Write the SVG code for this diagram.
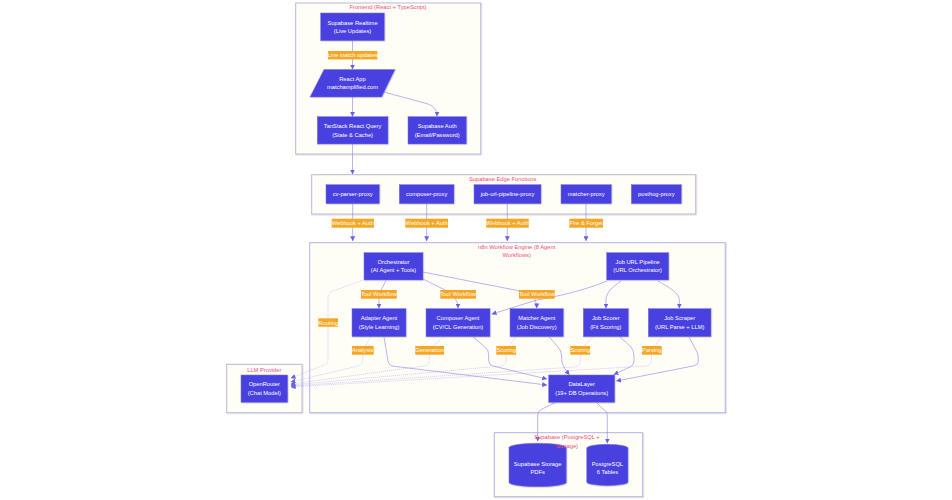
<svg xmlns="http://www.w3.org/2000/svg" width="952" height="500" viewBox="0 0 952 500">
<style>
text{font-family:"Liberation Sans",Arial,sans-serif;font-size:5.75px;text-anchor:middle}
.c{fill:#fffef6;stroke:#bdbad8;stroke-width:1;filter:url(#s)}
.ce{stroke:#b6b2e8}
.t{fill:#ec4f80}
.n{fill:#4a41e0;stroke:#7a74e0;stroke-width:.5;filter:url(#s)}
.nt{fill:#fff}
.l{fill:#f5a623}
.lt{fill:#fff}
.e{fill:none;stroke:#918be8;stroke-width:.65;marker-end:url(#a)}
.d{fill:none;stroke:#aaa5ec;stroke-width:.5;stroke-dasharray:1.2 .8;marker-end:url(#a)}
</style>
<defs>
<filter id="s" x="-10%" y="-10%" width="125%" height="125%"><feDropShadow dx=".6" dy=".6" stdDeviation=".6" flood-color="#000" flood-opacity=".22"/></filter>
<marker id="a" viewBox="0 0 10 10" refX="9" refY="5" markerUnits="userSpaceOnUse" markerWidth="5" markerHeight="5" orient="auto"><path d="M0 0L10 5L0 10z" fill="#6a61e2"/></marker>
</defs>
<rect width="952" height="500" fill="#fff"/>
<g id="clusters">
<rect class="c" x="295.7" y="3" width="185" height="151"/>
<rect class="c" x="311.7" y="174.7" width="384" height="39.3"/>
<rect class="c ce" x="309.7" y="242.7" width="415.5" height="170"/>
<rect class="c" x="226.7" y="364.3" width="75.3" height="48.4"/>
<rect class="c ce" x="494.3" y="432.7" width="148.4" height="64"/>
<text class="t" x="388" y="9.4">Frontend (React + TypeScript)</text>
<text class="t" x="502.7" y="181">Supabase Edge Functions</text>
<text class="t" x="516.7" y="249">n8n Workflow Engine (8 Agent</text>
<text class="t" x="516.7" y="257.3">Workflows)</text>
<text class="t" x="264.3" y="371.5">LLM Provider</text>
</g>
<g id="connectors">
<path class="e" d="M352.5 40.7V69"/>
<path class="e" d="M352.5 97V116.2"/>
<path class="e" d="M384 92L428 104Q437 107 437 116"/>
<path class="e" d="M352.5 144V174"/>
<path class="e" d="M352.7 203.7V240.7"/>
<path class="e" d="M426.7 203.7V240.7"/>
<path class="e" d="M507.3 203.7V240.7"/>
<path class="e" d="M586 203.7V240.7"/>
<path class="e" d="M386 280.7L379 294V308"/>
<path class="e" d="M423 279L445 290Q458 296 458 308"/>
<path class="e" d="M423 272L525 292Q536.7 295 536.7 308"/>
<path class="e" d="M607 281C585 290 560 296 537 300L492 314"/>
<path class="e" d="M621 281C612 287 606 293 606 300V308"/>
<path class="e" d="M658 281C670 288 679.3 293 679.3 300V308"/>
<path class="d" d="M363 280L333 291Q328 293 328 298V360Q328 364 324 365L291 378"/>
<path class="d" d="M370.7 337L362.7 350V361Q362.5 365 358 366L291 382"/>
<path class="d" d="M443 337L429.3 350V361Q429 365 424 366L291 384"/>
<path class="d" d="M515.7 337L506 350V361Q506 365 501 366L291 385"/>
<path class="d" d="M592.7 337L580.3 350V362Q580 366 575 367L291 386"/>
<path class="d" d="M661.7 337L651.5 350V361Q651 365 646 366L291 387"/>
<path class="e" d="M384 337L388 361Q388.5 365 392 366L546.7 385"/>
<path class="e" d="M473.3 337L486 348Q488.5 350 488.7 355V361Q489 365 493 366L546.7 379"/>
<path class="e" d="M549.3 337L558 347Q561 350 561.5 355L562 362Q563 367 569.3 374.5"/>
<path class="e" d="M620 337L631 347Q634 351 634 356V361Q634 365 630 367L614 374.5"/>
<path class="e" d="M689 337L696 350Q698.3 354 698.3 358V362Q698 365 693 366L616.5 381"/>
<path class="e" d="M555 402.7L542 409Q537.7 411 537.7 416V441"/>
<path class="e" d="M596.7 402.7L603 409Q607.3 411 607.3 416V443"/>
</g>
<g id="edge-labels">
<g><rect class="l" x="328" y="51" width="49.3" height="8.4"/><text class="lt" x="352.6" y="57.3">Live match updates</text></g>
<g><rect class="l" x="331.7" y="218.7" width="42.3" height="9"/><text class="lt" x="352.8" y="225.2">Webhook + Auth</text></g>
<g><rect class="l" x="405.3" y="218.7" width="42.7" height="9"/><text class="lt" x="426.7" y="225.2">Webhook + Auth</text></g>
<g><rect class="l" x="486.3" y="218.7" width="42.4" height="9"/><text class="lt" x="507.5" y="225.2">Webhook + Auth</text></g>
<g><rect class="l" x="569.3" y="218.7" width="33.7" height="9"/><text class="lt" x="586.2" y="225.2">Fire &amp; Forget</text></g>
<g><rect class="l" x="361" y="290" width="35.7" height="8.7"/><text class="lt" x="378.8" y="296.4">Tool Workflow</text></g>
<g><rect class="l" x="440.3" y="290" width="35.7" height="8.7"/><text class="lt" x="458.2" y="296.4">Tool Workflow</text></g>
<g><rect class="l" x="519" y="290" width="35.7" height="8.7"/><text class="lt" x="536.8" y="296.4">Tool Workflow</text></g>
<g><rect class="l" x="318.3" y="318.3" width="19.7" height="8.4"/><text class="lt" x="328.2" y="324.6">Routing</text></g>
<g><rect class="l" x="352" y="346" width="21.7" height="8.7"/><text class="lt" x="362.8" y="352.4">Analysis</text></g>
<g><rect class="l" x="415.3" y="346" width="28.7" height="8.7"/><text class="lt" x="429.6" y="352.4">Generation</text></g>
<g><rect class="l" x="496.3" y="346" width="19.7" height="8.7"/><text class="lt" x="506.2" y="352.4">Scoring</text></g>
<g><rect class="l" x="570.3" y="346" width="19.7" height="8.7"/><text class="lt" x="580.2" y="352.4">Scoring</text></g>
<g><rect class="l" x="642" y="346" width="19.7" height="8.7"/><text class="lt" x="651.8" y="352.4">Parsing</text></g>
</g>
<g id="supabase-realtime"><rect class="n" x="320.7" y="13" width="63.6" height="27.7"/><text class="nt" x="352.5" y="24.6">Supabase Realtime</text><text class="nt" x="352.5" y="33.2">(Live Updates)</text></g>
<g id="react-app"><path class="n" d="M324 69.5H395L381.7 97H310z"/><text class="nt" x="352.5" y="81">React App</text><text class="nt" x="352.5" y="89">matchamplified.com</text></g>
<g id="tanstack"><rect class="n" x="317.3" y="116.7" width="70.7" height="27.3"/><text class="nt" x="352.6" y="128">TanStack React Query</text><text class="nt" x="352.6" y="136.8">(State &amp; Cache)</text></g>
<g id="supabase-auth"><rect class="n" x="408" y="116.7" width="58.3" height="27.3"/><text class="nt" x="437.2" y="128">Supabase Auth</text><text class="nt" x="437.2" y="136.8">(Email/Password)</text></g>
<g id="cv-parser-proxy"><rect class="n" x="326" y="184.7" width="53.3" height="19"/><text class="nt" x="352.7" y="196.2">cv-parser-proxy</text></g>
<g id="composer-proxy"><rect class="n" x="399.3" y="184.7" width="54.7" height="19"/><text class="nt" x="426.7" y="196.2">composer-proxy</text></g>
<g id="job-url-pipeline-proxy"><rect class="n" x="474" y="184.7" width="67" height="19"/><text class="nt" x="507.5" y="196.2">job-url-pipeline-proxy</text></g>
<g id="matcher-proxy"><rect class="n" x="561" y="184.7" width="50.3" height="19"/><text class="nt" x="586.2" y="196.2">matcher-proxy</text></g>
<g id="posthog-proxy"><rect class="n" x="631.3" y="184.7" width="50" height="19"/><text class="nt" x="656.3" y="196.2">posthog-proxy</text></g>
<g id="orchestrator"><rect class="n" x="364" y="252.7" width="59" height="27.3"/><text class="nt" x="393.5" y="264.2">Orchestrator</text><text class="nt" x="393.5" y="272.4">(AI Agent + Tools)</text></g>
<g id="job-url-pipeline"><rect class="n" x="606.7" y="252.7" width="62" height="27.3"/><text class="nt" x="637.7" y="264.2">Job URL Pipeline</text><text class="nt" x="637.7" y="272.4">(URL Orchestrator)</text></g>
<g id="adapter-agent"><rect class="n" x="352" y="308.7" width="54" height="28"/><text class="nt" x="379" y="320">Adapter Agent</text><text class="nt" x="379" y="328.8">(Style Learning)</text></g>
<g id="composer-agent"><rect class="n" x="426" y="308.7" width="64" height="28"/><text class="nt" x="458" y="320">Composer Agent</text><text class="nt" x="458" y="328.8">(CV/CL Generation)</text></g>
<g id="matcher-agent"><rect class="n" x="510" y="308.7" width="53.3" height="28"/><text class="nt" x="536.7" y="320">Matcher Agent</text><text class="nt" x="536.7" y="328.8">(Job Discovery)</text></g>
<g id="job-scorer"><rect class="n" x="583.3" y="308.7" width="45" height="28"/><text class="nt" x="605.8" y="320">Job Scorer</text><text class="nt" x="605.8" y="328.8">(Fit Scoring)</text></g>
<g id="job-scraper"><rect class="n" x="648.3" y="308.7" width="62.7" height="28"/><text class="nt" x="679.7" y="320">Job Scraper</text><text class="nt" x="679.7" y="328.8">(URL Parse + LLM)</text></g>
<g id="datalayer"><rect class="n" x="548.7" y="375" width="66" height="27.3"/><text class="nt" x="581.7" y="386.4">DataLayer</text><text class="nt" x="581.7" y="395.2">(19+ DB Operations)</text></g>
<g id="openrouter"><rect class="n" x="241" y="375" width="46.7" height="27.3"/><text class="nt" x="264.3" y="386.4">OpenRouter</text><text class="nt" x="264.3" y="395.2">(Chat Model)</text></g>
<g id="supabase-storage"><path class="n" d="M509 447.5A28.65 4.2 0 0 1 566.3 447.5V482.5A28.65 4.2 0 0 1 509 482.5z"/><text class="nt" x="537.6" y="466">Supabase Storage</text><text class="nt" x="537.6" y="474">PDFs</text></g>
<g id="postgresql"><path class="n" d="M586.7 448A20.65 3.7 0 0 1 628 448V482A20.65 3.7 0 0 1 586.7 482z"/><text class="nt" x="607.4" y="466">PostgreSQL</text><text class="nt" x="607.4" y="474">6 Tables</text></g>
<g id="supabase-title"><text class="t" x="567" y="439">Supabase (PostgreSQL +</text><text class="t" x="567" y="447.5">Storage)</text></g>
</svg>
